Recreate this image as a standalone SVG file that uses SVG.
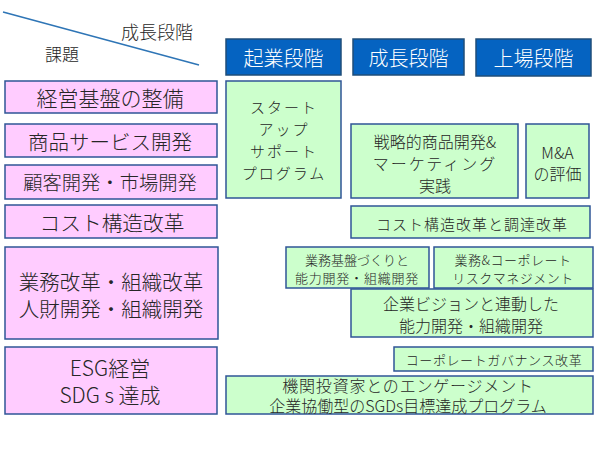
<svg xmlns="http://www.w3.org/2000/svg" width="599" height="450" viewBox="0 0 599 450">
<style>
text{font-family:"Noto Sans CJK JP","Noto Sans",sans-serif;font-weight:300;text-anchor:middle;dominant-baseline:central;fill:#262626}
.hd rect{fill:#0563C1;stroke:#1F4E79;stroke-width:1.5}
.hd text{fill:#fff;font-size:20px}
.pk rect{fill:#FFCCFF;stroke:#2F5597;stroke-width:1.5}
.gr rect{fill:#CCFFCC;stroke:#2F5597;stroke-width:1.5}
.t15{font-size:15px}
.t16{font-size:16px}
.t13{font-size:13px}
</style>
<rect width="599" height="450" fill="#fff"/>
<g id="corner">
<line x1="3" y1="12" x2="199" y2="65" stroke="#2E75B6" stroke-width="1.5"/>
<text x="157" y="31" style="font-size:18px">成長段階</text>
<text x="62" y="53" style="font-size:17px">課題</text>
</g>
<g id="h1" class="hd"><rect x="226" y="39" width="115" height="36"/><text x="283.5" y="57">起業段階</text></g>
<g id="h2" class="hd"><rect x="353" y="39" width="111" height="36"/><text x="408.5" y="57">成長段階</text></g>
<g id="h3" class="hd"><rect x="476" y="39" width="115" height="37"/><text x="533.5" y="57.5">上場段階</text></g>

<g id="p1" class="pk"><rect x="5" y="81" width="212" height="32"/><text x="110" y="97" style="font-size:21px">経営基盤の整備</text></g>
<g id="p2" class="pk"><rect x="5" y="124" width="212" height="33"/><text x="110" y="140.5" style="font-size:20.5px">商品サービス開発</text></g>
<g id="p3" class="pk"><rect x="5" y="165" width="212" height="34"/><text x="110" y="182" style="font-size:19.3px">顧客開発・市場開発</text></g>
<g id="p4" class="pk"><rect x="5" y="205" width="212" height="33"/><text x="112" y="221.5" style="font-size:20.7px">コスト構造改革</text></g>
<g id="p5" class="pk"><rect x="5" y="247" width="213" height="92"/><text x="111" y="281" style="font-size:20.5px">業務改革・組織改革</text><text x="111" y="308" style="font-size:20.5px">人財開発・組織開発</text></g>
<g id="p6" class="pk"><rect x="5" y="347" width="212" height="67"/><text x="110" y="367" style="font-size:21px">ESG経営</text><text x="110" y="394" style="font-size:21px">SDG s 達成</text></g>

<g id="g1" class="gr"><rect x="226" y="81" width="115" height="117"/>
<text class="t15" x="284" y="106" letter-spacing="2">スタート</text>
<text class="t15" x="284" y="128" letter-spacing="2">アップ</text>
<text class="t15" x="284" y="150" letter-spacing="2">サポート</text>
<text class="t15" x="284" y="172" letter-spacing="2">プログラム</text></g>
<g id="g2" class="gr"><rect x="351" y="124" width="167" height="74"/>
<text class="t16" x="435" y="141">戦略的商品開発&amp;</text>
<text class="t16" x="435" y="163" letter-spacing="2">マーケティング</text>
<text class="t16" x="435" y="185">実践</text></g>
<g id="g3" class="gr"><rect x="526" y="124" width="63" height="74"/>
<text class="t16" x="557.5" y="152">M&amp;A</text>
<text class="t16" x="557.5" y="173">の評価</text></g>
<g id="g4" class="gr"><rect x="351" y="206" width="239" height="32"/>
<text class="t15" x="472" y="223" letter-spacing="1">コスト構造改革と調達改革</text></g>
<g id="g5" class="gr"><rect x="286" y="247" width="143" height="41"/>
<text class="t13" x="357" y="259">業務基盤づくりと</text>
<text class="t13" x="357" y="277" letter-spacing="0.8">能力開発・組織開発</text></g>
<g id="g6" class="gr"><rect x="434" y="247" width="159" height="41"/>
<text class="t13" x="513" y="259" letter-spacing="0.5">業務&amp;コーポレート</text>
<text class="t13" x="513" y="277" letter-spacing="0.5">リスクマネジメント</text></g>
<g id="g7" class="gr"><rect x="351" y="289" width="242" height="48"/>
<text class="t16" x="471" y="303">企業ビジョンと連動した</text>
<text class="t16" x="471" y="325">能力開発・組織開発</text></g>
<g id="g8" class="gr"><rect x="394" y="347" width="199" height="24"/>
<text class="t13" x="494" y="359" letter-spacing="0.6">コーポレートガバナンス改革</text></g>
<g id="g9" class="gr"><rect x="226" y="376" width="367" height="38"/>
<text class="t16" x="408" y="385" letter-spacing="0.8">機関投資家とのエンゲージメント</text>
<text class="t16" x="408" y="405">企業協働型のSGDs目標達成プログラム</text></g>
</svg>
